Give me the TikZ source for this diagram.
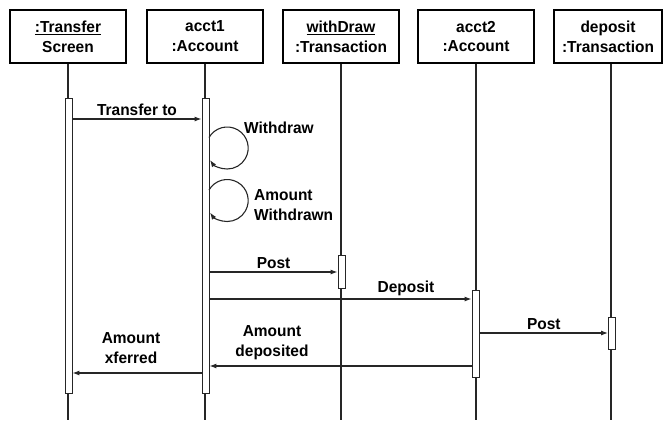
\documentclass[tikz,border=0pt]{standalone}
\usepackage{fontspec}
\setmainfont{Liberation Sans}[FakeStretch=0.97]
\usetikzlibrary{arrows.meta}
\newcommand{\ul}[1]{\underline{#1}}
\begin{document}
\begin{tikzpicture}[x=1bp,y=-1bp,
  txt/.style={font=\fontsize{16}{20}\selectfont\bfseries, align=center, inner sep=1pt},
  objbox/.style={txt, draw, line width=1.4pt, minimum width=116bp, minimum height=53bp},
  lifeline/.style={line width=1.1pt, draw=black!85},
  actbar/.style={draw=black!85, line width=0.9pt, fill=white, minimum width=7bp, inner sep=0pt},
  msg/.style={line width=1.1pt, draw=black!85, -{Latex[length=7bp,width=5bp]}},
]
\useasboundingbox (0,0) rectangle (664,420);
% objects
\node[objbox] (o1) at (68,36.5) {\ul{:Transfer}\\Screen};
\node[objbox] (o2) at (205,36.5) {acct1\\:Account};
\node[objbox] (o3) at (341,36.5) {\ul{withDraw}\\:Transaction};
\node[objbox] (o4) at (476,36.5) {acct2\\:Account};
\node[objbox, minimum width=108bp] (o5) at (608,36.5) {deposit\\:Transaction};
% lifeline ends
\coordinate (e1) at (68,420);
\coordinate (e2) at (205,420);
\coordinate (e3) at (341,420);
\coordinate (e4) at (476,420);
\coordinate (e5) at (611,420);
\draw[lifeline] (o1.south) -- (e1);
\draw[lifeline] (o2.south) -- (e2);
\draw[lifeline] (o3.south) -- (e3);
\draw[lifeline] (o4.south) -- (e4);
\draw[lifeline] (o5.south -| e5) -- (e5);
% activation bars
\node[actbar, minimum height=295bp] (a1) at (68.5,245.5) {};
\node[actbar, minimum height=295bp] (a2) at (205.5,245.5) {};
\node[actbar, minimum height=33bp] (a3) at (341.5,271.5) {};
\node[actbar, minimum height=87bp] (a4) at (475.5,333.5) {};
\node[actbar, minimum height=32bp] (a5) at (612,333) {};
% message levels
\coordinate (y1) at (0,119);
\coordinate (y2) at (0,272);
\coordinate (y3) at (0,299);
\coordinate (y4) at (0,333);
\coordinate (y5) at (0,366);
\coordinate (y6) at (0,373);
% messages
\draw[msg] (a1.east |- y1) -- node[txt, above=2bp] (l1) {Transfer to} (a2.west |- y1);
\draw[msg] (a2.east |- y2) -- node[txt, above=2bp] (l2) {Post} (a3.west |- y2);
\draw[msg] (a2.east |- y3) -- node[txt, above=2bp, pos=0.75] (l3) {Deposit} (a4.west |- y3);
\draw[msg] (a4.east |- y4) -- node[txt, above=2bp] (l4) {Post} (a5.west |- y4);
\draw[msg] (a4.west |- y5) -- (a2.east |- y5);
\draw[msg] (a2.west |- y6) -- (a1.east |- y6);
\node[txt] (l5) at (272,343) {Amount\\deposited};
\node[txt] (l6) at (131,348) {Amount\\xferred};
% self loops
\coordinate (s1) at (209,137.5);
\coordinate (s2) at (209,190);
\draw[msg] (s1) arc[start angle=150, end angle=-145, radius=21bp];
\draw[msg] (s2) arc[start angle=150, end angle=-145, radius=21bp];
\node[txt, anchor=west] (l7) at (243,128) {Withdraw};
\node[txt, anchor=west, align=left] (l8) at (253,205) {Amount\\Withdrawn};
\end{tikzpicture}
\end{document}
